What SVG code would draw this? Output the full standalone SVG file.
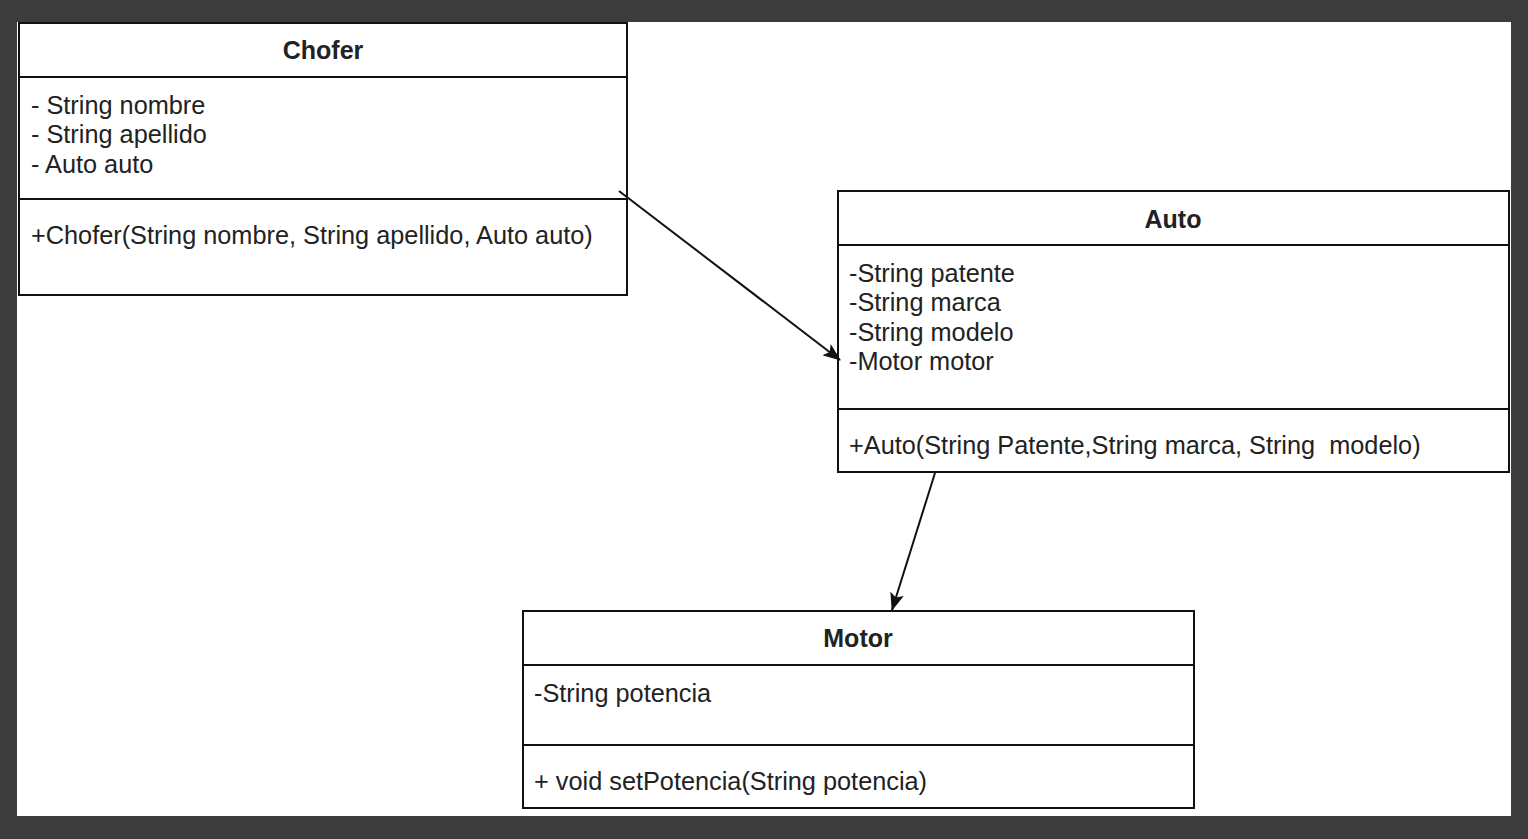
<svg xmlns="http://www.w3.org/2000/svg" width="1528" height="839" viewBox="0 0 1528 839">
<style>
.box{fill:#fff;stroke:#111;stroke-width:2}
.sep{stroke:#111;stroke-width:2}
.t{font-family:"Liberation Sans",Arial,sans-serif;font-size:25.3px;fill:#222}
.h{font-family:"Liberation Sans",Arial,sans-serif;font-size:25px;font-weight:bold;fill:#222;text-anchor:middle}
.c{stroke:#111;stroke-width:2;fill:none;marker-end:url(#arr)}
</style>
<defs>
<marker id="arr" viewBox="0 0 18 14" refX="17" refY="7" markerWidth="18" markerHeight="14" markerUnits="userSpaceOnUse" orient="auto">
<path d="M0,0 L18,7 L0,14 L4,7 z" fill="#111"/>
</marker>
</defs>
<rect x="0" y="0" width="1528" height="839" fill="#3c3c3c"/>
<rect x="17" y="22" width="1494" height="794" fill="#fff"/>
<g id="chofer">
<rect class="box" x="19" y="23" width="608" height="272"/>
<line class="sep" x1="19" y1="77" x2="627" y2="77"/>
<line class="sep" x1="19" y1="199" x2="627" y2="199"/>
<text class="h" x="323" y="59">Chofer</text>
<text class="t" x="31" y="113.5">- String nombre</text>
<text class="t" x="31" y="143">- String apellido</text>
<text class="t" x="31" y="172.5">- Auto auto</text>
<text class="t" x="31" y="244">+Chofer(String nombre, String apellido, Auto auto)</text>
</g>
<g id="auto">
<rect class="box" x="838" y="191" width="671" height="281"/>
<line class="sep" x1="838" y1="245" x2="1509" y2="245"/>
<line class="sep" x1="838" y1="409" x2="1509" y2="409"/>
<text class="h" x="1173" y="228">Auto</text>
<text class="t" x="849" y="282">-String patente</text>
<text class="t" x="849" y="311">-String marca</text>
<text class="t" x="849" y="340.5">-String modelo</text>
<text class="t" x="849" y="369.5">-Motor motor</text>
<text class="t" x="849" y="454" xml:space="preserve">+Auto(String Patente,String marca, String  modelo)</text>
</g>
<g id="motor">
<rect class="box" x="523" y="611" width="671" height="197"/>
<line class="sep" x1="523" y1="665" x2="1194" y2="665"/>
<line class="sep" x1="523" y1="745" x2="1194" y2="745"/>
<text class="h" x="858" y="647">Motor</text>
<text class="t" x="534" y="702">-String potencia</text>
<text class="t" x="534" y="790">+ void setPotencia(String potencia)</text>
</g>
<g id="connectors">
<line class="c" x1="619" y1="191" x2="840" y2="360"/>
<line class="c" x1="935" y1="473" x2="892" y2="610"/>
</g>
</svg>
